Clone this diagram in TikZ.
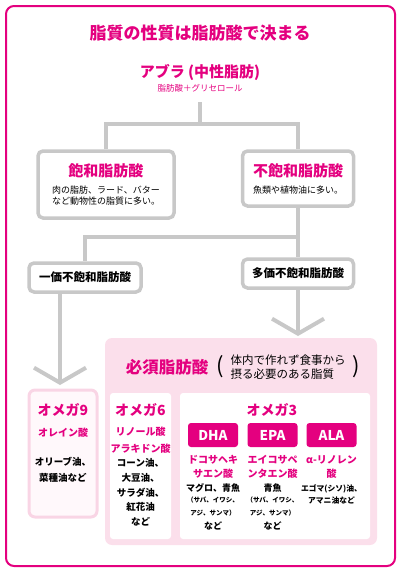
\documentclass[tikz,border=0pt]{standalone}
\usepackage{fontspec}
\setmainfont{Noto Sans CJK JP}
\usetikzlibrary{arrows.meta}
\definecolor{maincol}{HTML}{E4007F}
\definecolor{linecol}{HTML}{C8C8C8}
\definecolor{essfill}{HTML}{FBDFEB}
\definecolor{palefill}{HTML}{FFF8FB}
\definecolor{paleline}{HTML}{F9D5E5}
\newcommand{\fsz}[2]{\fontsize{#1}{#2}\selectfont}
\tikzset{
  conn/.style={draw=linecol, line width=4pt},
  graybox/.style={draw=linecol, line width=3.5pt, rounded corners=5pt, fill=white,
    align=center, inner sep=0pt},
  whitebox/.style={fill=white, rounded corners=3pt, inner sep=0pt},
  omegatitle/.style={text=maincol, font=\bfseries\fsz{14}{14}},
  acidname/.style={text=maincol, font=\bfseries\fsz{10}{14}, align=center},
  foodtext/.style={font=\bfseries\fsz{9.5}{14.75}, align=center},
  smalltext/.style={font=\bfseries\fsz{6.5}{13}, align=center},
  badge/.style={fill=maincol, rounded corners=3pt, text=white, font=\bfseries\fsz{13.5}{13.5},
    minimum width=50pt, minimum height=24pt, inner sep=0pt},
  chevron/.style={-{Straight Barb[length=15pt, width=52pt]}}
}

\begin{document}
\begin{tikzpicture}[x=1pt, y=-1pt]

  \useasboundingbox (0,0) rectangle (400,573);

  % Outer frame.
  \draw[maincol, line width=2pt, rounded corners=8pt] (6,6) rectangle (395,566);

  % Heading.
  \node[text=maincol, font=\bfseries\fsz{17}{17}] (title) at (200,33) {脂質の性質は脂肪酸で決まる};
  \node[text=maincol, font=\bfseries\fsz{15}{15}] (abura) at (200,72) {アブラ (中性脂肪)};
  \node[text=maincol, font=\fsz{8.5}{8.5}] (abura-sub) at (200,88) {脂肪酸＋グリセロール};

  % Saturated / unsaturated.
  \node[graybox, minimum width=136pt, minimum height=67pt, font=\fsz{9}{11}] (sat) at (106,184.5)
    {{\bfseries\color{maincol}\fsz{15}{15}飽和脂肪酸}\\[6pt]
     肉の脂肪、ラード、バター\\など動物性の脂質に多い。};
  \node[graybox, minimum width=111pt, minimum height=55pt, font=\fsz{9}{11}] (unsat) at (298,178.5)
    {{\bfseries\color{maincol}\fsz{15}{15}不飽和脂肪酸}\\[6pt]
     魚類や植物油に多い。};

  \coordinate (split) at (200,124);
  \draw[conn] ([yshift=-7pt]abura-sub.south) -- (split);
  \draw[conn] (sat.north) |- (split) -| (unsat.north);

  % Mono / poly.
  \node[graybox, minimum width=112pt, minimum height=29pt, font=\bfseries\fsz{11.5}{11.5}]
    (mono) at (85,277.5) {一価不飽和脂肪酸};
  \node[graybox, minimum width=111pt, minimum height=29pt, font=\bfseries\fsz{11.5}{11.5}]
    (poly) at (298,273.5) {多価不飽和脂肪酸};

  \coordinate (split2) at (298,237);
  \draw[conn] (unsat.south) -- (poly.north);
  \draw[conn] (split2) -| (mono.north);

  % Essential fatty acids panel.
  \node[fill=essfill, rounded corners=7pt, minimum width=272pt, minimum height=207pt,
    inner sep=0pt] (ess) at (241,441.5) {};
  \node[text=maincol, font=\bfseries\fsz{16.5}{16.5}] (esstitle) at (167,367) {必須脂肪酸};
  \node[font=\fsz{11.5}{14}, align=left, inner sep=0pt] (essnote) at (288,367)
    {体内で作れず食事から\\摂る必要のある脂質};
  \node[font=\fsz{22}{22}, left=3pt] (lpar) at (essnote.west) {(};
  \node[font=\fsz{22}{22}, right=3pt] (rpar) at (essnote.east) {)};

  % Arrows.
  \coordinate (tip9) at (60,385);
  \coordinate (tipess) at (298,336);
  \draw[conn, chevron] ([xshift=-25pt]mono.south) -- (tip9);
  \draw[conn, chevron] (poly.south) -- (tipess);

  % Omega 9.
  \node[fill=palefill, draw=paleline, line width=3pt, rounded corners=6pt,
    minimum width=68pt, minimum height=127pt, inner sep=0pt] (o9) at (63,453.5) {};
  \node[omegatitle] (o9title) at (63,410) {オメガ9};
  \node[acidname] (o9acid) at (63,433) {オレイン酸};
  \node[foodtext, font=\bfseries\fsz{9.5}{16}] (o9food) at (63,470) {オリーブ油、\\菜種油など};

  % Omega 6.
  \node[whitebox, minimum width=61pt, minimum height=146pt] (o6) at (140.5,466) {};
  \node[omegatitle] (o6title) at (140.5,410) {オメガ6};
  \node[acidname, font=\bfseries\fsz{10}{17}] (o6acid) at (140.5,440.5) {リノール酸\\アラキドン酸};
  \node[foodtext] (o6food) at (140.5,492.5) {コーン油、\\大豆油、\\サラダ油、\\紅花油\\など};

  % Omega 3.
  \node[whitebox, minimum width=190pt, minimum height=146pt] (o3) at (275,466) {};
  \node[omegatitle] (o3title) at (272,410) {オメガ3};
  \node[badge] (dha) at (213,435) {DHA};
  \node[badge] (epa) at (272.5,435) {EPA};
  \node[badge] (ala) at (331.5,435) {ALA};

  \node[acidname] (dhaacid) at (213,467) {ドコサヘキ\\サエン酸};
  \node[acidname] (epaacid) at (272.5,467) {エイコサペ\\ンタエン酸};
  \node[acidname] (alaacid) at (331.5,467) {α-リノレン\\酸};

  \node[foodtext, font=\bfseries\fsz{9}{9}] (dhafood) at (213,488) {マグロ、青魚};
  \node[smalltext] (dhafish) at (213,506.5) {（サバ、イワシ、\\アジ、サンマ）};
  \node[foodtext, font=\bfseries\fsz{9}{9}] (dhaetc) at (213,526) {など};
  \node[foodtext, font=\bfseries\fsz{9}{9}] (epafood) at (272.5,488) {青魚};
  \node[smalltext] (epafish) at (272.5,506.5) {（サバ、イワシ、\\アジ、サンマ）};
  \node[foodtext, font=\bfseries\fsz{9}{9}] (epaetc) at (272.5,526) {など};
  \node[foodtext, font=\bfseries\fsz{7.8}{12}] (alafood) at (331.5,494) {エゴマ(シソ)油、\\アマニ油など};

\end{tikzpicture}
\end{document}
